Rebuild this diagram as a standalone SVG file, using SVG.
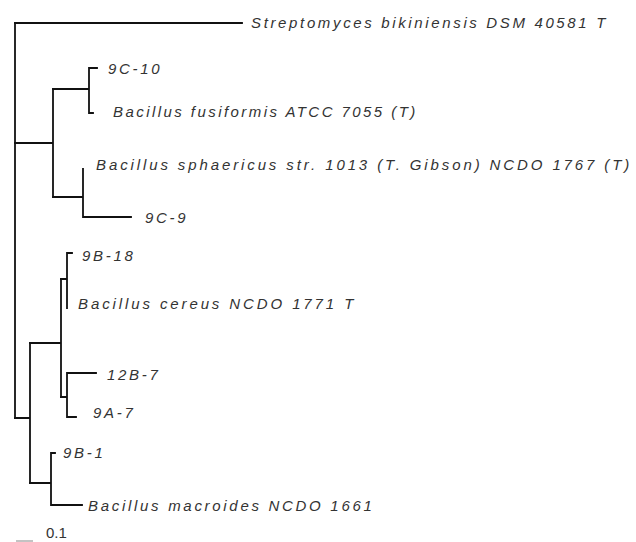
<svg xmlns="http://www.w3.org/2000/svg" width="636" height="542" viewBox="0 0 636 542">
<style>
.br{fill:none;stroke:#111;stroke-width:1.8;stroke-linecap:square}
.lb{font-family:"Liberation Sans",Arial,sans-serif;font-style:italic;font-size:15px;letter-spacing:2.7px;fill:#333}
.sc{font-family:"Liberation Sans",Arial,sans-serif;font-size:15px;fill:#333}
</style>
<rect width="636" height="542" fill="#fff"/>
<g id="connectors">
<path class="br" d="M15,23V418"/>
<path class="br" d="M15,23H242"/>
<path class="br" d="M15,143H53M53,89V197"/>
<path class="br" d="M53,89H89M89,68V113M89,68H97M89,113H93"/>
<path class="br" d="M53,197H83M83,169V217M83,217H131"/>
<path class="br" d="M15,418H30M30,343V483"/>
<path class="br" d="M30,343H61M61,279V397"/>
<path class="br" d="M61,279H67M67,253V308M67,253H72"/>
<path class="br" d="M61,397H67M67,373V417M67,373H96M67,417H76"/>
<path class="br" d="M30,483H51M51,453V505M51,453H55M51,505H82"/>
<path d="M16,541H33" stroke="#aaa" stroke-width="1.4"/>
</g>
<g id="n-streptomyces"><text class="lb" x="251" y="28" textLength="357" lengthAdjust="spacing">Streptomyces bikiniensis DSM 40581 T</text></g>
<g id="n-9c10"><text class="lb" x="108" y="74">9C-10</text></g>
<g id="n-fusiformis"><text class="lb" x="113" y="117" textLength="305" lengthAdjust="spacing">Bacillus fusiformis ATCC 7055 (T)</text></g>
<g id="n-sphaericus"><text class="lb" x="96" y="170" textLength="536" lengthAdjust="spacing">Bacillus sphaericus str. 1013 (T. Gibson) NCDO 1767 (T)</text></g>
<g id="n-9c9"><text class="lb" x="145" y="223">9C-9</text></g>
<g id="n-9b18"><text class="lb" x="82" y="261">9B-18</text></g>
<g id="n-cereus"><text class="lb" x="78" y="309" textLength="278" lengthAdjust="spacing">Bacillus cereus NCDO 1771 T</text></g>
<g id="n-12b7"><text class="lb" x="107" y="380">12B-7</text></g>
<g id="n-9a7"><text class="lb" x="93" y="418">9A-7</text></g>
<g id="n-9b1"><text class="lb" x="63" y="458">9B-1</text></g>
<g id="n-macroides"><text class="lb" x="88" y="511">Bacillus macroides NCDO 1661</text></g>
<g id="scale"><text class="sc" x="46" y="538">0.1</text></g>
</svg>
